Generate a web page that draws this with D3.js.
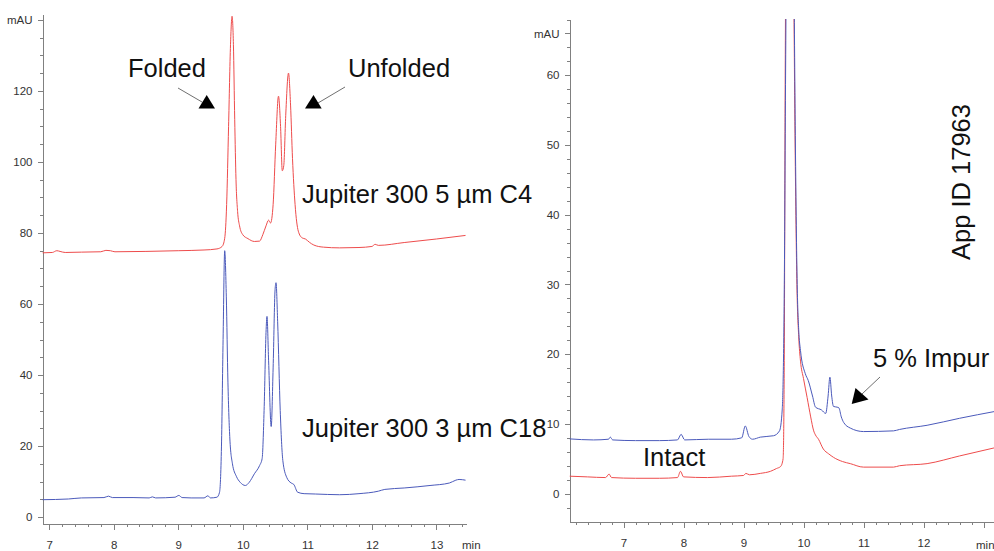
<!DOCTYPE html>
<html>
<head>
<meta charset="utf-8">
<script src="https://cdn.jsdelivr.net/npm/d3@7"></script>
<style>
  body { margin: 0; background: #fff; }
  svg { display: block; font-family: "Liberation Sans", Arial, sans-serif; }
  .axis path, .axis line { stroke: #808080; shape-rendering: crispEdges; }
  .axis text { fill: #333; font-size: 11.5px; font-family: "Liberation Sans", Arial, sans-serif; }
  .note { font-size: 25.5px; fill: #111; }
</style>
</head>
<body>
<svg id="chart" width="994" height="551"></svg>
<script>
// Left panel: Jupiter 300 C4 (red) vs C18 (blue), [min, mAU]
const c4Trace = [
  [6.90, 74.4], [7.05, 74.5], [7.12, 75.0], [7.17, 74.8], [7.25, 74.5], [7.5, 74.6], [7.8, 74.7],
  [7.88, 75.1], [7.95, 75.0], [8.02, 74.7], [8.5, 74.8], [9.0, 75.0], [9.4, 75.2], [9.6, 75.5],
  [9.68, 76.2], [9.72, 78.5], [9.75, 88], [9.78, 110], [9.81, 133], [9.834, 141], [9.855, 133],
  [9.875, 112], [9.895, 95], [9.92, 86], [9.95, 82], [10.0, 79.5], [10.08, 78.4], [10.18, 77.6],
  [10.26, 77.7], [10.31, 79.5], [10.36, 82], [10.40, 83.6], [10.43, 82.8], [10.47, 88], [10.51, 105],
  [10.553, 118.5], [10.585, 110], [10.612, 97.5], [10.635, 99], [10.665, 113], [10.708, 125],
  [10.74, 116], [10.77, 101], [10.81, 88], [10.86, 80.5], [10.92, 78.6], [10.97, 78.3], [11.03, 77.4],
  [11.1, 76.6], [11.25, 76.0], [11.5, 75.8], [11.8, 75.9], [12.0, 76.2], [12.05, 76.8], [12.1, 76.5],
  [12.5, 77.3], [13.0, 78.3], [13.45, 79.3]
];
const c18Trace = [
  [6.90, 4.9], [7.3, 5.1], [7.5, 5.4], [7.85, 5.5], [7.92, 5.9], [7.98, 5.5], [8.3, 5.5], [8.55, 5.4],
  [8.6, 5.7], [8.65, 5.4], [8.95, 5.6], [9.01, 6.1], [9.06, 5.5], [9.2, 5.4], [9.4, 5.4], [9.46, 6.0],
  [9.5, 5.4], [9.6, 5.6], [9.64, 7], [9.67, 20], [9.695, 50], [9.72, 75], [9.745, 62], [9.77, 38],
  [9.80, 22], [9.84, 15], [9.9, 11.5], [9.96, 9.8], [10.04, 8.9], [10.1, 9.8], [10.18, 12.2],
  [10.26, 14.5], [10.3, 16.5], [10.33, 30], [10.36, 52], [10.375, 56.5], [10.40, 44], [10.44, 25.5],
  [10.47, 42], [10.50, 64], [10.515, 66], [10.54, 55], [10.58, 30], [10.62, 16], [10.68, 11.2],
  [10.75, 9.6], [10.79, 9.2], [10.85, 7.0], [10.95, 6.6], [11.13, 6.5], [11.5, 6.3], [11.8, 6.6],
  [12.1, 7.3], [12.2, 7.8], [12.5, 8.2], [12.9, 8.9], [13.2, 9.6], [13.3, 10.4], [13.35, 10.6], [13.45, 10.4]
];

// Right panel: intact (red) vs impurity sample (blue), [min, mAU]
const intactTrace = [
  [6.1, 2.5], [6.4, 2.4], [6.7, 2.3], [6.76, 2.8], [6.8, 2.3], [7.2, 2.2], [7.6, 2.2], [7.9, 2.3],
  [7.95, 3.2], [8.0, 2.4], [8.4, 2.3], [8.8, 2.5], [9.0, 2.6], [9.04, 2.9], [9.1, 2.7], [9.28, 2.9],
  [9.45, 3.2], [9.55, 3.6], [9.62, 3.9], [9.66, 5], [9.68, 20], [9.695, 60], [9.73, 95], [9.78, 100],
  [9.83, 80], [9.86, 50], [9.89, 30], [9.92, 22.5], [9.95, 19], [10.0, 16.5], [10.06, 13.8],
  [10.12, 11], [10.17, 9], [10.2, 8.4], [10.25, 7.8], [10.33, 6.4], [10.42, 5.7], [10.5, 5.2],
  [10.65, 4.6], [10.78, 4.3], [11.0, 3.8], [11.5, 3.8], [11.6, 4.0], [12.06, 4.3], [12.6, 5.4], [13.2, 6.6]
];
const impurityTrace = [
  [6.1, 7.85], [6.5, 7.7], [6.75, 7.8], [6.78, 8.1], [6.82, 7.7], [7.2, 7.6], [7.6, 7.6], [7.9, 7.7],
  [7.96, 8.5], [8.02, 7.7], [8.42, 7.8], [8.8, 7.8], [8.97, 8.0], [9.03, 9.7], [9.09, 8.2], [9.15, 7.8],
  [9.28, 8.1], [9.5, 8.3], [9.6, 9.0], [9.645, 12], [9.68, 30], [9.705, 65], [9.74, 100], [9.79, 100],
  [9.84, 75], [9.865, 50], [9.895, 30], [9.92, 23.5], [9.95, 20.5], [10.03, 17.2], [10.08, 16.2],
  [10.15, 14], [10.2, 12.4], [10.3, 12], [10.37, 11.5], [10.41, 14], [10.44, 16.7], [10.47, 14],
  [10.5, 12.5], [10.56, 12.4], [10.59, 12.3], [10.63, 11], [10.67, 10.2], [10.78, 9.4], [11.0, 8.9],
  [11.5, 9.0], [11.6, 9.2], [12.06, 9.8], [12.6, 10.8], [13.2, 11.8]
];

// tick labels
const leftYTicks = [0, 20, 40, 60, 80, 100, 120, 140];
const leftXTicks = [7, 8, 9, 10, 11, 12, 13];
const rightYTicks = [0, 10, 20, 30, 40, 50, 60, 66];
const rightXTicks = [7, 8, 9, 10, 11, 12, 13];
const unitLabel = "mAU";

const RED = "#ee4c4c", BLUE = "#4b5abb";

const svg = d3.select("#chart");

/**
 * Draws one chromatogram panel: axes with minor ticks and its traces
 */
const drawPanel = (opts) => {
  const { x, y, majorY, minorY, majorX, minorX, yLabelAt, xLabelPad, hideX, traces, clip } = opts;
  const g = svg.append("g");
  const [x0] = x.range();
  const [yb] = y.range();

  // Y - Axis minor ticks
  g.append("g").attr("class", "axis")
    .attr("transform", `translate(${x0},0)`)
    .call(d3.axisLeft(y).tickValues(minorY).tickSize(3).tickSizeOuter(0).tickFormat(""))
    .call(a => a.select(".domain").remove());

  // Y - Axis
  g.append("g").attr("class", "axis")
    .attr("transform", `translate(${x0},0)`)
    .call(d3.axisLeft(y).tickValues(majorY).tickSize(5).tickPadding(5).tickSizeOuter(0)
      .tickFormat(d => d === yLabelAt ? unitLabel : d));

  // X - Axis minor ticks
  g.append("g").attr("class", "axis")
    .attr("transform", `translate(0,${yb})`)
    .call(d3.axisBottom(x).tickValues(minorX).tickSize(3).tickSizeOuter(0).tickFormat(""))
    .call(a => a.select(".domain").remove());

  // X - Axis
  g.append("g").attr("class", "axis")
    .attr("transform", `translate(0,${yb})`)
    .call(d3.axisBottom(x).tickValues(majorX).tickSize(6).tickPadding(xLabelPad).tickSizeOuter(0)
      .tickFormat(d => hideX.includes(d) ? "" : d));

  const line = d3.line()
    .x(d => x(d[0]))
    .y(d => y(d[1]))
    .curve(d3.curveMonotoneX);

  const lines = g.append("g");
  if (clip) lines.attr("clip-path", `url(#${clip})`);
  traces.forEach(t => {
    lines.append("path")
      .datum(t.data)
      .attr("fill", "none")
      .attr("stroke", t.color)
      .attr("stroke-width", 1)
      .attr("stroke-linejoin", "round")
      .attr("d", line);
  });
  return g;
};

const minorsOf = (lo, hi, step, majors) =>
  d3.range(lo, hi + 1e-9, step).map(v => +v.toFixed(2)).filter(v => !majors.includes(v));

// Left panel
const xL = d3.scaleLinear().domain([6.898, 13.465]).range([42.5, 466.5]);
const yL = d3.scaleLinear().domain([-1.8, 141.5]).range([523.5, 14.5]);
drawPanel({
  x: xL, y: yL,
  majorY: leftYTicks, minorY: minorsOf(5, 140, 5, leftYTicks),
  majorX: leftXTicks, minorX: minorsOf(7, 13.4, 0.2, leftXTicks),
  yLabelAt: 140, xLabelPad: 11, hideX: [],
  traces: [{ data: c4Trace, color: RED }, { data: c18Trace, color: BLUE }]
});

// Right panel
const xR = d3.scaleLinear().domain([6.1, 13.2]).range([569.5, 995.5]);
const yR = d3.scaleLinear().domain([-4, 68]).range([521.5, 19.5]);
svg.append("clipPath").attr("id", "clipR")
  .append("rect").attr("x", 569.5).attr("y", 19).attr("width", 430).attr("height", 503);
drawPanel({
  x: xR, y: yR,
  majorY: rightYTicks, minorY: minorsOf(-2, 68, 2, rightYTicks).filter(v => v % 10 !== 0),
  majorX: rightXTicks, minorX: minorsOf(6.2, 13.2, 0.2, rightXTicks),
  yLabelAt: 66, xLabelPad: 11, hideX: [13],
  traces: [{ data: intactTrace, color: RED }, { data: impurityTrace, color: BLUE }],
  clip: "clipR"
});

// x unit labels
svg.append("text").attr("x", 462).attr("y", 549)
  .style("font-size", "11.5px").style("fill", "#333").text("min");
svg.append("text").attr("x", 976).attr("y", 549)
  .style("font-size", "11.5px").style("fill", "#333").text("min");

// Annotations
const notes = [
  { text: "Folded", x: 128, y: 77 },
  { text: "Unfolded", x: 348, y: 77 },
  { text: "Jupiter 300 5 µm C4", x: 302, y: 203 },
  { text: "Jupiter 300 3 µm C18", x: 302, y: 437 },
  { text: "Intact", x: 643, y: 466 },
  { text: "5 % Impur", x: 873, y: 367 }
];
svg.selectAll("text.note").data(notes).join("text")
  .attr("class", "note")
  .attr("x", d => d.x).attr("y", d => d.y)
  .text(d => d.text);

svg.append("text").attr("class", "note")
  .attr("transform", "translate(970,182) rotate(-90)")
  .style("text-anchor", "middle")
  .text("App ID 17963");

// Arrows: leader line + black head
const arrows = [
  { line: [[178, 88], [202, 102]], head: [[198.5, 108.5], [215, 108.5], [206.7, 95]] },
  { line: [[318, 103], [345, 87]], head: [[305, 108.5], [321.7, 108.5], [313.5, 95]] },
  { line: [[880, 377], [862, 394]], head: [[851.7, 404], [855.5, 388], [868.5, 399.5]] }
];
arrows.forEach(a => {
  svg.append("path").attr("d", d3.line()(a.line))
    .attr("stroke", "#707070").attr("stroke-width", 1).attr("fill", "none");
  svg.append("path").attr("d", d3.line()(a.head) + "Z").attr("fill", "#000");
});
</script>
</body>
</html>
